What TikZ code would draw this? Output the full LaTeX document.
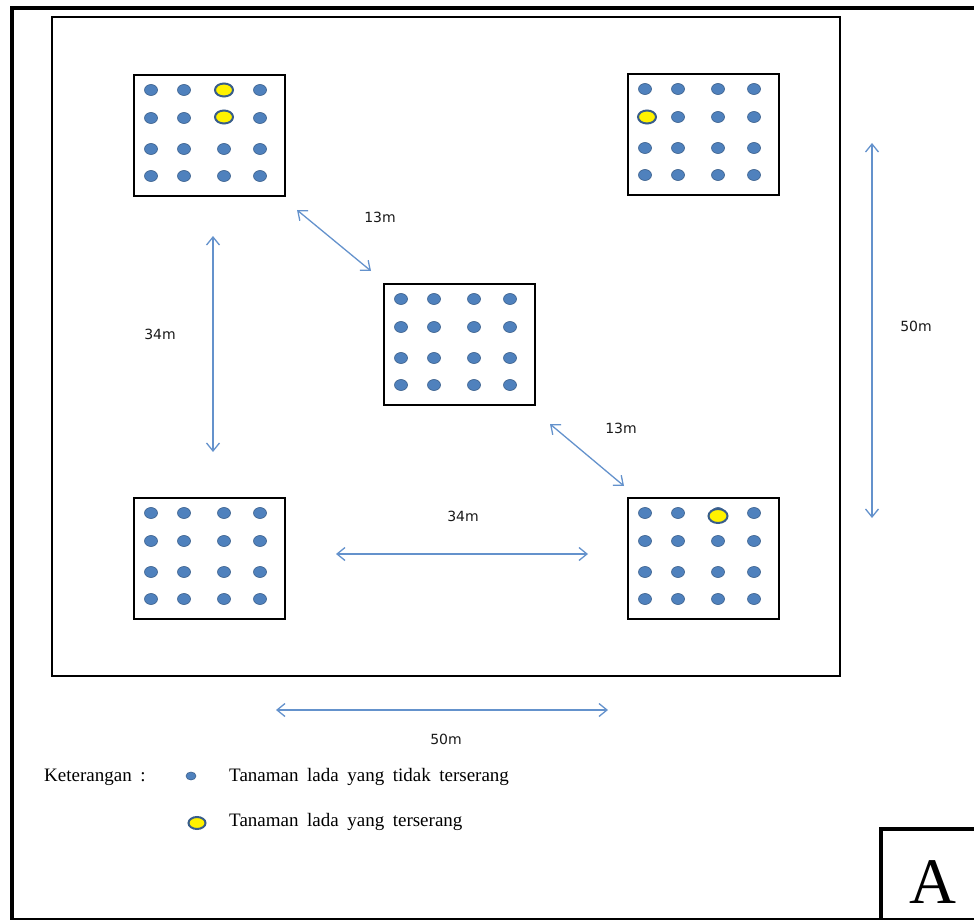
\documentclass[tikz,border=0pt]{standalone}
\usepackage{fontspec}
\usepackage{tikz}
\usetikzlibrary{arrows.meta}
\setmainfont{Liberation Serif}
\newfontfamily\labelfont{DejaVu Sans}
\newfontfamily\legendfont{Liberation Serif}[WordSpace=1.8]
\definecolor{plantblue}{RGB}{79,129,189}
\definecolor{plantedge}{RGB}{56,93,138}
\definecolor{arrowblue}{RGB}{100,146,204}

\begin{document}
\begin{tikzpicture}[x=1pt,y=-1pt,
  plot/.style={draw=black,line width=2pt,minimum width=151pt,minimum height=121pt,anchor=north west,inner sep=0pt},
  dot/.style={fill=plantblue,draw=plantedge,line width=0.6pt},
  sick/.style={fill=yellow,draw=plantedge,line width=2pt},
  dist/.style={<->,arrowblue,line width=1.3pt},
  dim/.style={font=\labelfont\fontsize{14}{16}\selectfont,text=black!90},
  legend/.style={font=\legendfont\fontsize{19}{21}\selectfont,anchor=west,inner sep=0pt},
  >={Straight Barb[length=8pt,width=13pt]}]
\useasboundingbox (0,0) rectangle (974,920);
\clip (0,0) rectangle (974,920);

% frames
\draw [line width=4.5pt] (12,8) rectangle (1000,920);
\draw [line width=2pt] (52,17) rectangle (840,676);

% plots
\node [plot] (pa) at (133,74) {};
\node [plot] (pb) at (627,73) {};
\node [plot] (pc) at (383,283) {};
\node [plot] (pd) at (133,497) {};
\node [plot] (pe) at (627,497) {};

% plants
\foreach \px/\py in {133/74,627/73,383/283,133/497,627/497}
  \foreach \dx in {18,51,91,127}
    \foreach \dy in {16,44,75,102}
      \filldraw [dot] (\px+\dx,\py+\dy) ellipse (6.5 and 5.5);

\filldraw [sick] (224,90) ellipse (9 and 6.5);
\filldraw [sick] (224,117) ellipse (9 and 6.5);
\filldraw [sick] (647,117) ellipse (9 and 6.5);
\filldraw [sick] (718,516) ellipse (9.5 and 7);

% distances
\coordinate (a1) at (297,210); \coordinate (b1) at (371,271);
\coordinate (a2) at (213,236); \coordinate (b2) at (213,452);
\coordinate (a3) at (550,424); \coordinate (b3) at (624,486);
\coordinate (a4) at (336,554); \coordinate (b4) at (588,554);
\coordinate (a5) at (872,143); \coordinate (b5) at (872,518);
\coordinate (a6) at (276,710); \coordinate (b6) at (608,710);
\draw [dist] (a1) -- (b1);
\draw [dist] (a2) -- (b2);
\draw [dist] (a3) -- (b3);
\draw [dist] (a4) -- (b4);
\draw [dist] (a5) -- (b5);
\draw [dist] (a6) -- (b6);

\node [dim] (l1) at (380,217) {13m};
\node [dim] (l2) at (160,334) {34m};
\node [dim] (l3) at (621,428) {13m};
\node [dim] (l4) at (463,516) {34m};
\node [dim] (l5) at (916,326) {50m};
\node [dim] (l6) at (446,739) {50m};

% legend
\node [legend] (ket) at (44,777) {Keterangan\ :};
\filldraw [dot] (191,776) ellipse (5 and 4);
\node [legend] (healthy) at (229,777) {Tanaman lada yang tidak terserang};
\filldraw [sick] (197,823) ellipse (8.5 and 6);
\node [legend] (attacked) at (229,822) {Tanaman lada yang terserang};

% box A
\draw [line width=4pt] (881,829) rectangle (1000,940);
\node (boxA) at (933,882) {\fontsize{65}{70}\selectfont A};
\end{tikzpicture}
\end{document}
